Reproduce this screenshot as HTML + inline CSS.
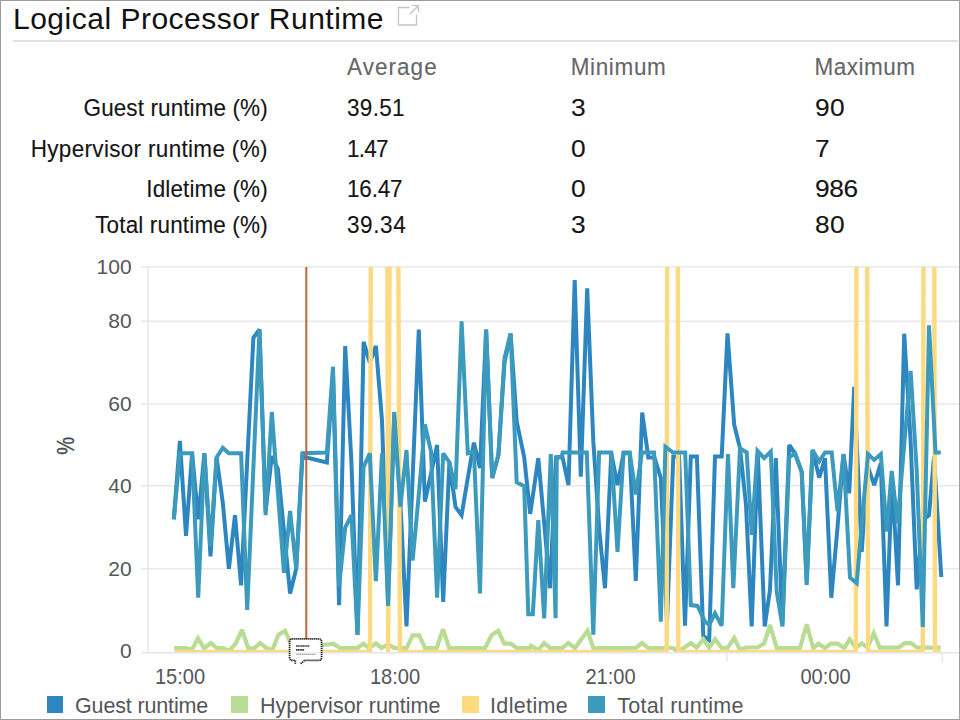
<!DOCTYPE html>
<html><head><meta charset="utf-8"><title>Logical Processor Runtime</title>
<style>
html,body{margin:0;padding:0;background:#fff;}
body{width:960px;height:720px;position:relative;overflow:hidden;font-family:"Liberation Sans",sans-serif;}
.b{position:absolute;background:#9b9b9b;z-index:5;}
.title{position:absolute;left:13px;top:1px;font-size:30px;line-height:36px;color:#111;white-space:nowrap;letter-spacing:0.5px;}
.rule{position:absolute;left:13px;top:40px;width:945px;height:1.6px;background:#dfe2e2;}
.t{position:absolute;white-space:nowrap;font-size:22.5px;line-height:26px;color:#151515;transform:scaleY(1.06);transform-origin:0 20.4px;-webkit-text-stroke:0.12px currentColor;}
.h{color:#666;}
.w{transform:scale(1.17,1.06);}
.r{text-align:right;width:267.8px;left:0;}
.chart{position:absolute;left:0;top:0;}
.lg{position:absolute;top:692.6px;font-size:21.5px;line-height:26px;color:#55565a;white-space:nowrap;}
.sw{position:absolute;top:696.3px;width:16.9px;height:17px;}
</style></head>
<body>
<div class="title">Logical Processor Runtime</div>
<svg style="position:absolute;left:394px;top:2px" width="28" height="28" viewBox="0 0 28 28"><path d="M15.5,5.5 H4.5 V23 H22.5 V12.5" fill="none" stroke="#c4c4c4" stroke-width="1.3"/><path d="M16,12 L24,4 M18,3.6 H24.4 V10" fill="none" stroke="#c4c4c4" stroke-width="1.3"/></svg>
<div class="rule"></div>

<div class="t h" style="left:347px;top:54.9px;letter-spacing:1.05px">Average</div>
<div class="t h" style="left:570.7px;top:54.9px;letter-spacing:0.64px">Minimum</div>
<div class="t h" style="left:814.6px;top:54.9px;letter-spacing:0.5px">Maximum</div>

<div class="t r" style="top:95.9px;letter-spacing:0.10px">Guest runtime (%)</div>
<div class="t" style="left:347px;top:95.9px;letter-spacing:0.31px">39.51</div>
<div class="t w" style="left:570.7px;top:95.9px">3</div>
<div class="t w" style="left:814.6px;top:95.9px;letter-spacing:0.4px">90</div>

<div class="t r" style="top:136.8px;letter-spacing:0.32px">Hypervisor runtime (%)</div>
<div class="t" style="left:347px;top:136.8px;letter-spacing:-0.74px">1.47</div>
<div class="t w" style="left:570.7px;top:136.8px">0</div>
<div class="t w" style="left:814.6px;top:136.8px">7</div>

<div class="t r" style="top:177.4px;letter-spacing:0.12px">Idletime (%)</div>
<div class="t" style="left:347px;top:177.4px;letter-spacing:-0.19px">16.47</div>
<div class="t w" style="left:570.7px;top:177.4px">0</div>
<div class="t w" style="left:814.6px;top:177.4px;letter-spacing:-0.3px">986</div>

<div class="t r" style="top:212.9px;letter-spacing:0.15px">Total runtime (%)</div>
<div class="t" style="left:347px;top:212.9px;letter-spacing:0.6px">39.34</div>
<div class="t w" style="left:570.7px;top:212.9px">3</div>
<div class="t w" style="left:814.6px;top:212.9px;letter-spacing:0.4px">80</div>

<svg class="chart" width="960" height="720" viewBox="0 0 960 720">
<defs><clipPath id="plot"><rect x="148" y="267" width="812" height="385.1"/></clipPath></defs>
<rect x="141" y="266" width="818" height="1.6" fill="#e9e9e9"/><rect x="141" y="320.5" width="818" height="1.6" fill="#e9e9e9"/><rect x="141" y="403" width="818" height="1.6" fill="#e9e9e9"/><rect x="141" y="485" width="818" height="1.6" fill="#e9e9e9"/><rect x="141" y="568" width="818" height="1.6" fill="#e9e9e9"/>
<rect x="141" y="652" width="818" height="1.6" fill="#e6e6e6"/>
<rect x="147.3" y="266" width="1.5" height="387" fill="#e6e8e8"/>
<rect x="726.4" y="653" width="1.4" height="9" fill="#e6e6e6"/>
<rect x="941.6" y="653" width="1.4" height="9" fill="#e6e6e6"/>
<g clip-path="url(#plot)" fill="none" stroke-linejoin="miter" stroke-miterlimit="2.6">
<path d="M173.8,519.3 L179.9,440.9 L186.0,535.8 L192.1,453.3 L198.2,519.3 L204.4,453.3 L210.5,556.4 L216.6,457.4 L222.8,502.8 L228.9,568.8 L235.0,515.2 L241.1,585.3 L247.2,461.5 L253.4,337.8 L259.5,329.5 L265.6,511.0 L271.8,456.2 L277.9,469.0 L284.0,531.7 L290.1,593.5 L296.2,568.8 L302.4,456.6 L326.9,462.4 L333.0,374.9 L339.1,605.1 L345.2,346.0 L351.4,461.5 L357.5,634.8 L363.6,341.9 L369.8,362.5 L375.9,346.0 L382.0,420.3 L388.1,601.8 L394.2,416.2 L400.4,502.8 L406.5,626.5 L412.6,478.0 L418.8,329.5 L424.9,501.6 L431.0,473.9 L437.1,445.0 L443.2,601.8 L449.4,462.4 L455.5,506.9 L461.6,515.2 L467.8,478.0 L473.9,442.6 L480.0,468.1 L486.1,329.5 L492.2,478.0 L498.4,454.9 L504.5,362.5 L510.6,333.7 L516.7,421.5 L524.2,457.4 L530.2,513.9 L538.3,458.2 L544.2,523.4 L550.0,588.2 L556.0,457.4 L562.4,456.6 L568.5,485.1 L574.7,280.0 L580.8,476.8 L587.2,288.3 L593.3,440.9 L599.4,531.7 L605.0,588.2 L611.3,453.3 L617.5,485.1 L623.6,453.3 L629.7,453.3 L635.8,580.8 L642.2,412.5 L648.3,457.4 L654.4,457.4 L660.8,478.0 L667.0,622.4 L673.3,456.6 L679.1,456.6 L685.0,625.7 L690.8,456.6 L696.9,456.6 L703.3,636.0 L709.2,640.2 L715.0,456.6 L721.7,456.6 L727.5,333.3 L734.2,424.8 L740.0,448.3 L746.0,504.9 L751.7,626.5 L757.8,453.3 L764.7,626.5 L770.0,589.8 L775.8,458.2 L782.3,622.4 L789.2,445.0 L795.0,453.3 L801.7,471.9 L806.7,581.2 L812.5,450.0 L819.2,477.6 L825.0,458.2 L831.3,597.7 L837.5,527.5 L843.5,454.1 L849.2,493.3 L854.2,386.9 L861.7,551.9 L867.5,465.7 L874.2,485.1 L880.8,463.2 L886.5,626.5 L892.0,478.0 L898.0,585.3 L904.2,333.7 L910.6,440.9 L916.7,589.4 L922.8,520.1 L929.0,515.2 L934.0,456.6 L941.3,577.0" stroke="#2e86c1" stroke-width="4.0"/>
<path d="M174.2,648.0 L185.8,648.0 L191.7,650.0 L198.0,638.3 L204.2,648.3 L210.8,643.0 L216.7,648.0 L222.5,648.0 L229.2,650.8 L235.8,643.3 L242.0,630.0 L248.3,648.3 L254.2,648.3 L260.3,643.0 L266.7,648.3 L272.5,650.0 L278.3,635.0 L285.0,630.8 L290.0,641.7 L296.5,648.0 L302.7,646.0 L323.3,645.0 L333.3,643.7 L340.0,648.0 L357.5,648.0 L363.3,643.7 L369.2,648.3 L375.8,643.3 L381.7,648.0 L388.3,644.2 L394.2,648.0 L406.7,648.0 L412.5,635.3 L419.2,635.3 L425.0,648.0 L436.7,648.0 L443.0,629.2 L449.2,648.0 L485.0,648.0 L491.7,635.0 L498.3,630.8 L504.2,643.7 L510.8,643.7 L516.7,648.0 L530.0,648.0 L531.0,645.8 L538.3,650.0 L544.2,643.0 L550.0,648.0 L562.5,648.0 L568.3,643.0 L575.0,648.0 L587.5,630.8 L593.3,648.0 L600.0,648.0 L635.8,648.0 L642.0,643.0 L648.3,648.0 L663.3,648.0 L668.3,647.5 L673.3,648.3 L676.7,650.8 L680.8,650.0 L690.8,643.0 L696.7,647.5 L703.3,639.2 L709.2,648.0 L715.0,639.2 L721.7,648.0 L727.5,648.0 L734.2,638.0 L740.0,650.0 L745.8,647.5 L757.5,647.5 L764.2,643.3 L770.0,625.0 L776.7,648.0 L800.0,648.0 L806.7,624.2 L813.3,648.3 L818.3,643.7 L825.0,648.0 L830.8,643.7 L837.5,643.7 L844.2,648.0 L849.7,639.2 L855.8,648.0 L861.7,643.3 L867.5,647.5 L873.8,633.3 L879.8,647.7 L898.5,647.7 L904.8,643.2 L911.0,643.2 L917.3,647.7 L940.7,647.7" stroke="#b9dc95" stroke-width="4.2"/>
<path d="M174.2,652.0 L370.0,652.0 L370.8,255.0 L387.4,255.0 L388.2,652.0 L389.6,255.0 L398.3,255.0 L400.0,652.0 L666.7,652.0 L667.2,255.0 L677.8,255.0 L678.3,652.0 L855.8,652.0 L856.5,255.0 L867.2,255.0 L868.0,652.0 L922.8,652.0 L923.5,255.0 L934.3,255.0 L935.0,652.0 L940.7,652.0" stroke="#fdda80" stroke-width="4.4"/>
<path d="M173.8,519.3 L179.9,453.3 L186.0,453.3 L192.1,453.3 L198.2,597.7 L204.4,453.3 L210.5,546.1 L216.6,457.4 L222.8,447.9 L228.9,453.3 L235.0,453.3 L241.1,453.3 L247.2,610.0 L253.4,467.3 L259.5,329.5 L265.6,515.2 L271.8,412.0 L277.9,492.9 L284.0,572.9 L290.1,511.0 L296.2,568.8 L302.4,453.3 L326.9,452.5 L333.0,366.7 L339.1,586.5 L345.2,527.5 L351.4,515.2 L357.5,634.8 L363.6,466.9 L369.8,453.3 L375.9,581.2 L382.0,453.3 L388.1,605.9 L394.2,412.0 L400.4,506.9 L406.5,450.0 L412.6,560.5 L418.8,494.5 L424.9,424.4 L431.0,451.6 L437.1,597.7 L443.2,453.3 L449.4,462.4 L455.5,489.2 L461.6,321.3 L467.8,453.3 L473.9,451.6 L480.0,593.5 L486.1,329.5 L492.2,478.0 L498.4,454.9 L504.5,358.4 L510.6,333.7 L516.7,482.2 L524.2,486.3 L528.3,614.2 L532.8,614.2 L538.3,520.1 L544.2,618.3 L550.8,454.1 L555.6,618.3 L556.8,457.4 L561.6,457.4 L562.6,452.5 L568.5,452.5 L574.6,452.5 L580.7,452.5 L586.8,452.5 L593.3,634.8 L599.1,452.5 L605.2,452.5 L611.3,452.5 L617.5,551.9 L623.6,452.5 L629.7,452.5 L635.8,494.5 L641.9,452.5 L648.0,452.5 L654.1,452.5 L660.8,621.6 L665.4,446.7 L673.0,452.5 L679.1,452.5 L685.2,452.5 L690.8,605.1 L697.5,605.9 L705.0,621.6 L709.2,624.9 L715.0,613.3 L721.7,625.7 L728.0,454.1 L733.3,588.2 L740.0,448.3 L746.7,452.5 L751.7,535.0 L757.5,450.8 L764.2,458.2 L770.8,451.6 L776.7,591.9 L782.5,626.5 L789.2,457.4 L795.0,453.3 L801.7,471.9 L806.7,584.9 L812.5,450.0 L819.2,461.5 L825.0,452.5 L831.7,452.5 L837.5,511.0 L843.5,454.1 L850.0,577.5 L856.7,583.2 L862.5,515.2 L868.0,454.1 L874.2,459.9 L880.8,454.1 L886.7,531.7 L891.7,471.0 L897.5,523.4 L904.0,447.1 L910.6,370.8 L916.7,469.8 L922.8,627.0 L929.0,325.4 L935.5,452.5 L940.8,452.5" stroke="#3c9abd" stroke-width="4.0"/>
</g>
<rect x="305.3" y="267" width="2" height="372" fill="#c8623a"/>
<g>
<path d="M292.6,638.9 H318.6 Q321.6,638.9 321.6,641.9 V657.4 Q321.6,660.4 318.6,660.4 H304.6 L300.4,664 H295.3 V660.4 H292.6 Q289.6,660.4 289.6,657.4 V641.9 Q289.6,638.9 292.6,638.9 Z" fill="#fff"/>
<rect x="290.4" y="652" width="30.4" height="1.5" fill="#eeeeee"/>
<path d="M295.3,663.8 V660.4 H292.6 Q289.6,660.4 289.6,657.4 V641.9 Q289.6,638.9 292.6,638.9 H318.6 Q321.6,638.9 321.6,641.9 V657.4 Q321.6,660.4 318.6,660.4 H304.6 L300.6,663.7" fill="none" stroke="#1c1c1c" stroke-width="1.8" stroke-dasharray="1.3 0.7"/>
<path d="M296,646 H309.4" stroke="#3a3a3a" stroke-width="1.6" stroke-dasharray="1.4 0.3" fill="none"/>
<path d="M296,649.9 H304.4" stroke="#3a3a3a" stroke-width="1.6" stroke-dasharray="1.4 0.3" fill="none"/>
<path d="M296.2,654.3 H316" stroke="#666" stroke-width="0.9" stroke-dasharray="1.3 0.7" fill="none"/>
</g>
<g font-family="'Liberation Sans', sans-serif" fill="#55565a" font-size="21px">
<text x="131.6" y="273.5" text-anchor="end">100</text>
<text x="131.6" y="328.0" text-anchor="end">80</text>
<text x="131.6" y="410.5" text-anchor="end">60</text>
<text x="131.6" y="493.0" text-anchor="end">40</text>
<text x="131.6" y="575.5" text-anchor="end">20</text>
<text x="131.6" y="658.0" text-anchor="end">0</text>
<text x="154.9" y="684.4" font-size="22px" textLength="50.2" lengthAdjust="spacingAndGlyphs">15:00</text>
<text x="369.9" y="684.4" font-size="22px" textLength="50.2" lengthAdjust="spacingAndGlyphs">18:00</text>
<text x="585.4" y="684.4" font-size="22px" textLength="50.2" lengthAdjust="spacingAndGlyphs">21:00</text>
<text x="800.4" y="684.4" font-size="22px" textLength="50.2" lengthAdjust="spacingAndGlyphs">00:00</text>
<text transform="translate(74.2,445.7) rotate(-90) scale(0.86,1)" text-anchor="middle" font-size="23.4px" fill="#4a4c52" stroke="#4a4c52" stroke-width="0.35">%</text>
</g>
</svg>

<div class="sw" style="left:46.6px;background:#2e86c1"></div><div class="lg" style="left:75px;letter-spacing:-0.15px">Guest runtime</div>
<div class="sw" style="left:231.2px;background:#b9dc95"></div><div class="lg" style="left:260px;letter-spacing:0.0px">Hypervisor runtime</div>
<div class="sw" style="left:462.3px;background:#fdda80"></div><div class="lg" style="left:490px;letter-spacing:0.35px">Idletime</div>
<div class="sw" style="left:588px;background:#3c9abd"></div><div class="lg" style="left:617.3px;letter-spacing:0.25px">Total runtime</div>
<div class="b" style="left:0;top:0;width:960px;height:1px"></div>
<div class="b" style="left:0;top:0;width:1px;height:720px"></div>
<div class="b" style="left:958.5px;top:0;width:1.5px;height:720px;background:#a0a0a0"></div>
<div class="b" style="left:0;top:718.8px;width:960px;height:1.2px"></div>
</body></html>
